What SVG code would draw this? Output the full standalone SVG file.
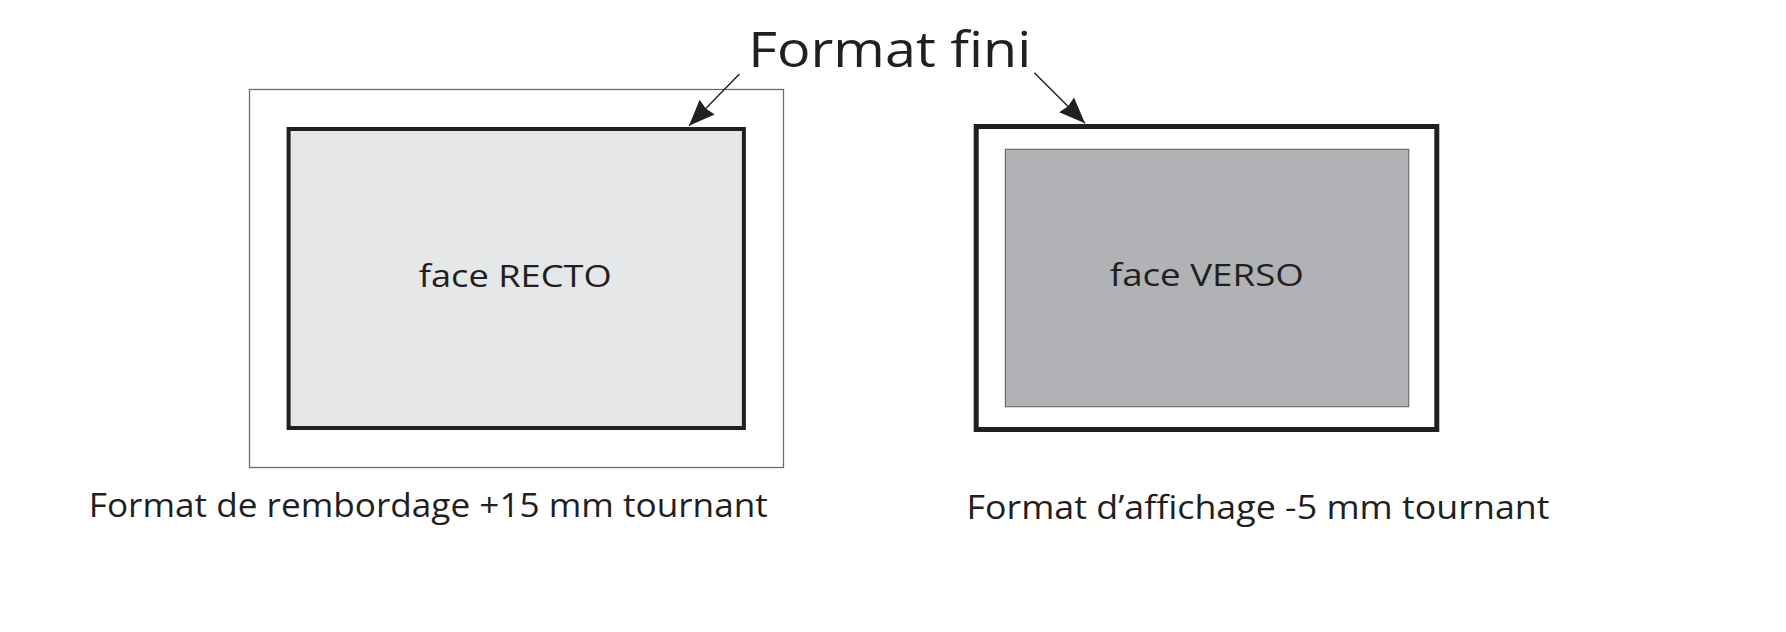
<svg xmlns="http://www.w3.org/2000/svg" width="1786" height="632" viewBox="0 0 1786 632">
<style>
  text { font-family: "Open Sans", "Noto Sans", "Liberation Sans", sans-serif; fill: #231f20; }
  .title { font-size: 49px; }
  .face { font-size: 31.5px; }
  .lbl { font-size: 32.5px; }
  .conn { stroke: #231f20; stroke-width: 1.4; fill: none; }
</style>
<defs>
  <marker id="ah" markerUnits="userSpaceOnUse" markerWidth="28" markerHeight="22" refX="26" refY="11" orient="auto" viewBox="0 0 28 22">
    <path d="M0,0.5 L26,11 L0,21.5 L2,11 Z" fill="#231f20"/>
  </marker>
</defs>
<rect width="1786" height="632" fill="#ffffff"/>

<g id="recto">
  <rect x="249.5" y="89.5" width="534" height="378" fill="#ffffff" stroke="#6d6e71" stroke-width="1.3"/>
  <rect x="288.6" y="129" width="455.3" height="299" fill="#e6e7e8" stroke="#231f20" stroke-width="4"/>
  <text class="face" x="418.7" y="286.7" textLength="193" lengthAdjust="spacingAndGlyphs">face RECTO</text>
</g>

<g id="verso">
  <rect x="976.2" y="126.5" width="460.6" height="303" fill="#ffffff" stroke="#231f20" stroke-width="5"/>
  <rect x="1005.4" y="149.3" width="403.3" height="257.4" fill="#b1b2b5" stroke="#6d6e71" stroke-width="1.2"/>
  <text class="face" x="1109.8" y="286" textLength="194" lengthAdjust="spacingAndGlyphs">face VERSO</text>
</g>

<g id="title">
  <text class="title" x="748.3" y="66.7" textLength="283" lengthAdjust="spacingAndGlyphs">Format fini</text>
</g>

<g id="labels">
  <text class="lbl" x="88.8" y="516.7" textLength="679" lengthAdjust="spacingAndGlyphs">Format de rembordage +15 mm tournant</text>
  <text class="lbl" x="966.5" y="519.3" textLength="583" lengthAdjust="spacingAndGlyphs">Format d’affichage -5 mm tournant</text>
</g>

<g id="connectors">
  <line class="conn" x1="739.4" y1="74" x2="689" y2="125.7" marker-end="url(#ah)"/>
  <line class="conn" x1="1034.3" y1="72.7" x2="1085" y2="123.3" marker-end="url(#ah)"/>
</g>
</svg>
